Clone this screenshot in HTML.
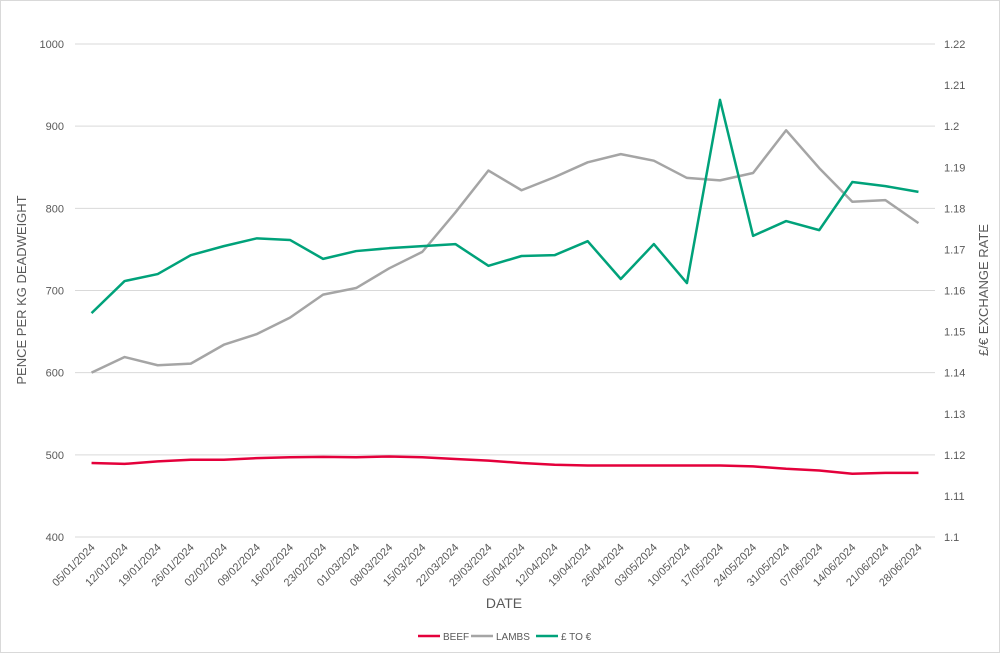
<!DOCTYPE html>
<html><head><meta charset="utf-8"><style>
body{margin:0;background:#fff;font-family:"Liberation Sans",sans-serif}
svg text{font-family:"Liberation Sans",sans-serif;fill:#595959}
</style></head><body>
<svg id="c" width="1000" height="653" xmlns="http://www.w3.org/2000/svg">
<rect x="0.5" y="0.5" width="999" height="652" fill="#fff" stroke="#d9d9d9"/>
</svg>
<script>
const categories=["05/01/2024","12/01/2024","19/01/2024","26/01/2024","02/02/2024","09/02/2024","16/02/2024","23/02/2024","01/03/2024","08/03/2024","15/03/2024","22/03/2024","29/03/2024","05/04/2024","12/04/2024","19/04/2024","26/04/2024","03/05/2024","10/05/2024","17/05/2024","24/05/2024","31/05/2024","07/06/2024","14/06/2024","21/06/2024","28/06/2024"];
const beef=[490,489,492,494,494,496,497,497.5,497,498,497,495,493,490,488,487,487,487,487,487,486,483,481,477,478,478];
const lambs=[600,619,609,611,634,647,667,695,703,727,747,795,846,822,838,856,866,858,837,834,843,895,849,808,810,782];
const fx=[1.1545,1.1623,1.164,1.1686,1.1708,1.1727,1.1723,1.1677,1.1696,1.1703,1.1708,1.1713,1.166,1.1684,1.1686,1.172,1.1628,1.1713,1.1618,1.2064,1.1733,1.1769,1.1747,1.1864,1.1854,1.184];
const leftTicks=[400,500,600,700,800,900,1000];
const rightTicks=[1.1,1.11,1.12,1.13,1.14,1.15,1.16,1.17,1.18,1.19,1.2,1.21,1.22];
const rightLabels=["1.1","1.11","1.12","1.13","1.14","1.15","1.16","1.17","1.18","1.19","1.2","1.21","1.22"];
const svg=document.getElementById('c');const NS="http://www.w3.org/2000/svg";
const L=75,R=935,T=44,B=537;
const x=i=>L+(R-L)*(i+0.5)/categories.length;
const yL=v=>B-(v-400)/600*(B-T);
const yR=v=>B-(v-1.1)/0.12*(B-T);
function mk(t,a,txt){const e=document.createElementNS(NS,t);for(const k in a)e.setAttribute(k,a[k]);if(txt!=null)e.textContent=txt;svg.appendChild(e);return e;}
leftTicks.forEach(v=>{const g=mk('line',{x1:L,x2:R,y1:yL(v),y2:yL(v),stroke:'#d9d9d9'});

const t=mk('text',{x:64,y:yL(v)+4,'text-anchor':'end','font-size':11},v);
});
rightTicks.forEach((v,i)=>{const t=mk('text',{x:944,y:yR(v)+4,'font-size':11},rightLabels[i]);
});
categories.forEach((c,i)=>{const xx=x(i);const t=mk('text',{x:xx+4,y:548,'text-anchor':'end','font-size':11,transform:`rotate(-45 ${xx+4} 548)`},c);
});
function line(arr,fy,col,name){const p=mk('polyline',{points:arr.map((v,i)=>x(i)+','+fy(v)).join(' '),fill:'none',stroke:col,'stroke-width':2.5,'stroke-linejoin':'round'});
}
line(beef,yL,'#e4003b','beef-line');line(lambs,yL,'#a5a5a5','lambs-line');line(fx,yR,'#00a27a','fx-line');
let t=mk('text',{x:26,y:290,'text-anchor':'middle','font-size':13,transform:'rotate(-90 26 290)'},'PENCE PER KG DEADWEIGHT');

t=mk('text',{x:988,y:290,'text-anchor':'middle','font-size':13,transform:'rotate(-90 988 290)'},'£/€ EXCHANGE RATE');

t=mk('text',{x:504,y:608,'text-anchor':'middle','font-size':14},'DATE');

const leg=[['BEEF','#e4003b',418],['LAMBS','#a5a5a5',471],['£ TO €','#00a27a',536]];
leg.forEach(l=>{const ln=mk('line',{x1:l[2],x2:l[2]+22,y1:636,y2:636,stroke:l[1],'stroke-width':2.5});

const tx=mk('text',{x:l[2]+25,y:640,'font-size':10},l[0]);
});
</script>
</body></html>
